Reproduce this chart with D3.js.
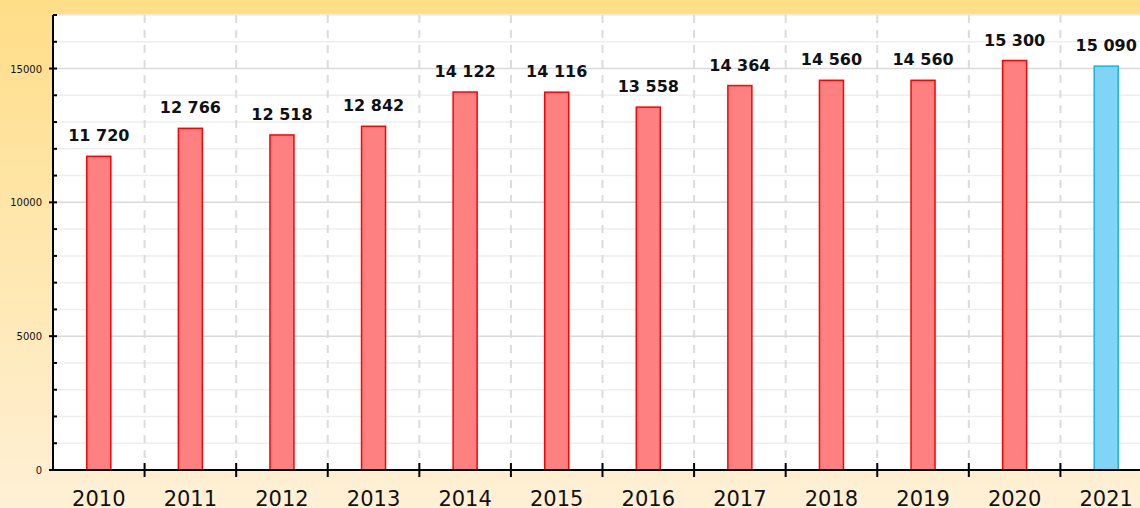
<!DOCTYPE html>
<html><head><meta charset="utf-8">
<script src="https://cdn.jsdelivr.net/npm/d3@7"></script>
<style>html,body{margin:0;padding:0;overflow:hidden;}svg{display:block;}</style>
</head><body>
<script>
const years = ["2010","2011","2012","2013","2014","2015","2016","2017","2018","2019","2020","2021"];
const values = [11720,12766,12518,12842,14122,14116,13558,14364,14560,14560,15300,15090];
const highlight = ["2021"];
const yTicks = [0,5000,10000,15000];

const W=1140,H=508;
const m={l:53,t:15,b:38};
const svg=d3.select("body").append("svg").attr("width",W).attr("height",H);
const defs=svg.append("defs");
const g=defs.append("linearGradient").attr("id","bg").attr("x1",0).attr("y1",0).attr("x2",0).attr("y2",1);
g.append("stop").attr("offset","0%").attr("stop-color","#FFDE88");
g.append("stop").attr("offset","100%").attr("stop-color","#FFF0D6");
svg.append("rect").attr("width",W).attr("height",H).attr("fill","url(#bg)");

const x=d3.scaleBand().domain(years).range([m.l,1152]).paddingInner(0).paddingOuter(0);
const y=d3.scaleLinear().domain([0,17000]).range([H-m.b,m.t]);
const y0=y(0), yTop=y(17000);

svg.append("rect").attr("x",m.l).attr("y",yTop).attr("width",W-m.l).attr("height",y0-yTop).attr("fill","#fff");

const minor=d3.range(0,17001,1000);
svg.append("g").selectAll("line").data(minor).join("line")
 .attr("x1",m.l).attr("x2",W).attr("y1",d=>y(d)).attr("y2",d=>y(d))
 .attr("stroke",d=>d%5000===0?"#d9d9d9":"#eeeeee").attr("stroke-width",1.5);

const bounds=years.map(d=>x(d)+x.bandwidth()).slice(0,-1);
svg.append("g").selectAll("line").data(bounds).join("line")
 .attr("x1",d=>d).attr("x2",d=>d).attr("y1",yTop).attr("y2",y0)
 .attr("stroke","#dcdcdc").attr("stroke-width",2).attr("stroke-dasharray","8,7");

const bw=24;
svg.append("g").selectAll("rect").data(years).join("rect")
 .attr("x",(d)=>x(d)+x.bandwidth()/2-bw/2)
 .attr("y",(d,i)=>y(values[i]))
 .attr("width",bw)
 .attr("height",(d,i)=>y0-y(values[i]))
 .attr("fill",d=>highlight.includes(d)?"#80D5F6":"#FF8080")
 .attr("stroke",d=>highlight.includes(d)?"#19B1EC":"#FF0000")
 .attr("stroke-width",1.5);

const fmt=v=>d3.format(",")(v).replace(/,/g," ");
svg.append("g").selectAll("text").data(years).join("text")
 .attr("x",d=>x(d)+x.bandwidth()/2)
 .attr("y",(d,i)=>y(values[i])-15)
 .attr("text-anchor","middle")
 .attr("font-family","DejaVu Sans, Verdana, sans-serif")
 .attr("font-weight","bold").attr("font-size","16px").attr("fill","#111")
 .text((d,i)=>fmt(values[i]));

svg.append("line").attr("x1",m.l).attr("x2",m.l).attr("y1",yTop).attr("y2",y0+1).attr("stroke","#000").attr("stroke-width",2);
svg.append("line").attr("x1",m.l-1).attr("x2",W).attr("y1",y0).attr("y2",y0).attr("stroke","#000").attr("stroke-width",2);
svg.append("g").selectAll("line").data(minor).join("line")
 .attr("x1",d=>d%5000===0?m.l-4:m.l).attr("x2",m.l+4)
 .attr("y1",d=>y(d)).attr("y2",d=>y(d)).attr("stroke","#000").attr("stroke-width",2);
svg.append("g").selectAll("text").data(yTicks).join("text")
 .attr("x",m.l-11).attr("y",d=>y(d)+4)
 .attr("text-anchor","end").attr("font-family","DejaVu Sans, Verdana, sans-serif")
 .attr("font-size","10px").attr("fill","#111").text(d=>d);
svg.append("g").selectAll("line").data(bounds).join("line")
 .attr("x1",d=>d).attr("x2",d=>d).attr("y1",y0-7).attr("y2",y0+7)
 .attr("stroke","#000").attr("stroke-width",2);
svg.append("g").selectAll("text").data(years).join("text")
 .attr("x",d=>x(d)+x.bandwidth()/2).attr("y",H-2)
 .attr("text-anchor","middle").attr("font-family","DejaVu Sans, Verdana, sans-serif")
 .attr("font-size","21px").attr("fill","#111").text(d=>d);
</script>
</body></html>
